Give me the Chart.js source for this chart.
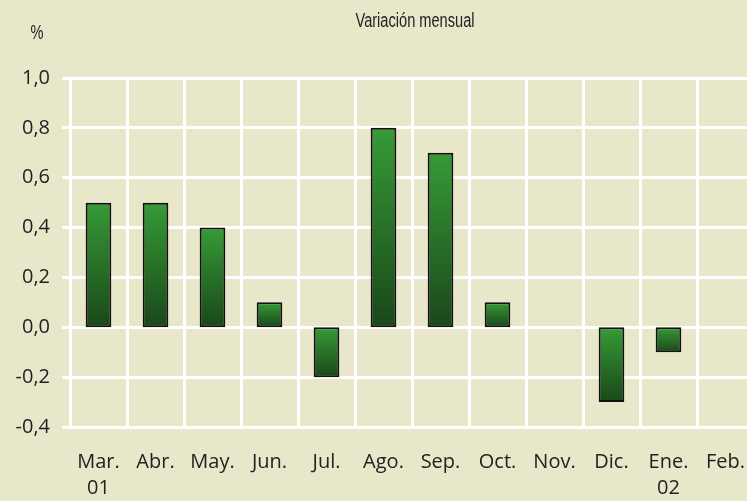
<!DOCTYPE html>
<html><head><meta charset="utf-8">
<script src="https://cdn.jsdelivr.net/npm/chart.js@4.4.1/dist/chart.umd.min.js"></script>
<style>
html,body{margin:0;padding:0;background:#e9e7ca;overflow:hidden;width:747px;height:501px;}
canvas{display:block;}
</style></head>
<body>
<canvas id="c" width="757" height="501" style="width:757px;height:501px"></canvas>
<script>
const categories = [["Mar.","01"],"Abr.","May.","Jun.","Jul.","Ago.","Sep.","Oct.","Nov.","Dic.",["Ene.","02"],"Feb."];
const values = [0.5,0.5,0.4,0.1,-0.2,0.8,0.7,0.1,null,-0.3,-0.1,null];
const yMin = -0.4, yMax = 1.0, yStep = 0.2;
const titleText = "Variación mensual";
const unitText = "%";

const bg = '#e9e7ca';
function narrowText(c, txt, x, y, sx){
  c.save();
  c.translate(x, y);
  c.scale(sx, 1);
  c.fillText(txt, 0, 0);
  c.restore();
}
const textPlugin = {
  id: 'texts',
  beforeDraw(chart){
    const c = chart.ctx;
    c.save();
    c.fillStyle = bg;
    c.fillRect(0,0,chart.width,chart.height);
    c.fillStyle = '#222';
    c.font = '20px "Liberation Sans", sans-serif';
    c.textAlign = 'center';
    c.textBaseline = 'middle';
    narrowText(c, titleText, 415, 21, 0.73);
    narrowText(c, unitText, 37, 33, 0.73);
    c.restore();
  }
};

function barGradient(ctx){
  const chart = ctx.chart;
  if (ctx.type !== 'data' || !chart.chartArea) return '#2a7a2a';
  const v = ctx.raw;
  if (v == null) return 'rgba(0,0,0,0)';
  const ys = chart.scales.y;
  const top = ys.getPixelForValue(Math.max(v,0));
  const bot = ys.getPixelForValue(Math.min(v,0));
  const g = chart.ctx.createLinearGradient(0, top, 0, bot);
  g.addColorStop(0, '#369b36');
  g.addColorStop(1, '#1a471a');
  return g;
}

new Chart(document.getElementById('c'), {
  type: 'bar',
  data: {
    labels: categories,
    datasets: [{
      data: values,
      backgroundColor: barGradient,
      borderColor: '#111',
      borderWidth: 2,
      borderSkipped: false,
      barPercentage: 0.45,
      categoryPercentage: 1
    }]
  },
  plugins: [textPlugin],
  options: {
    responsive: false,
    animation: false,
    layout: { padding: { top: 78, right: 3, left: 0, bottom: 0 } },
    plugins: { legend: { display: false }, tooltip: { enabled: false }, title: { display: false } },
    scales: {
      x: {
        offset: true,
        grid: { offset: true, color: '#ffffff', lineWidth: 3, drawTicks: false },
        border: { display: false },
        ticks: { color: '#222', font: { family: '"Open Sans", sans-serif', size: 20, lineHeight: 1.3 }, padding: 22, maxRotation: 0, autoSkip: false },
        afterFit(s){ s.height = 74; s.paddingLeft = 0; s.paddingRight = 0; }
      },
      y: {
        min: yMin, max: yMax,
        grid: { color: '#ffffff', lineWidth: 3, tickLength: 8, drawTicks: true },
        border: { display: false },
        ticks: {
          stepSize: yStep, color: '#222', padding: 12,
          font: { family: '"Open Sans", sans-serif', size: 20 },
          callback: (v) => (Math.round(v * 10) / 10 + 0).toFixed(1).replace('.', ',').replace('-0,0', '0,0')
        },
        afterFit(s){ s.width = 70; }
      }
    }
  }
});
</script>
</body></html>
